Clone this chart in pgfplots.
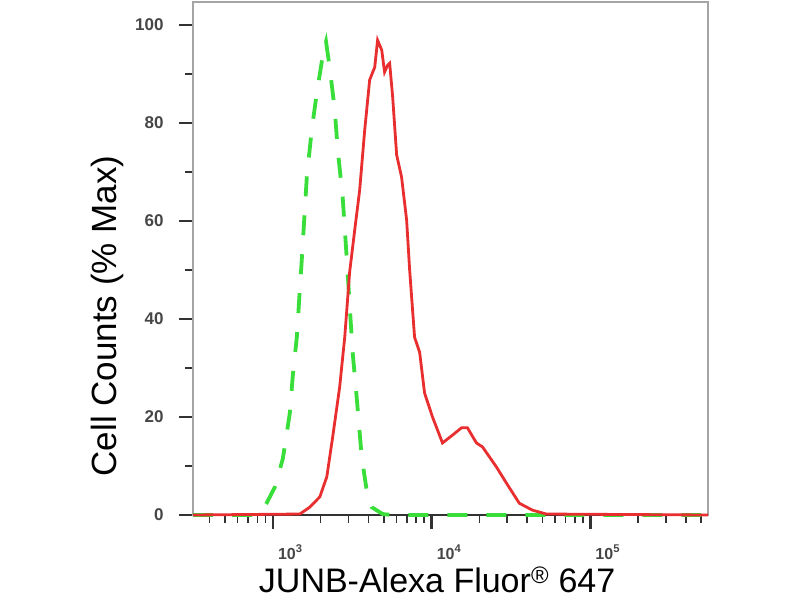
\documentclass[border=0pt]{standalone}
\usepackage{fontspec}
\setmainfont{Liberation Sans}
\usepackage{pgfplots}
\pgfplotsset{compat=1.18}
\definecolor{histred}{RGB}{232,46,46}
\definecolor{histgreen}{RGB}{58,222,58}
\definecolor{tickgray}{RGB}{50,50,50}
\definecolor{labelgray}{RGB}{70,70,70}
\definecolor{framegray}{RGB}{165,165,165}

\begin{document}
\begin{tikzpicture}
\path[use as bounding box] (-193pt,-85pt) rectangle (607pt,515pt);
\begin{axis}[
  at={(0pt,0pt)}, anchor=south west,
  scale only axis, width=515pt, height=513pt,
  xmode=log, xmin=314, xmax=552000,
  ymin=0, ymax=104.7,
  clip=false,
  xtick={1000,10000,100000},
  xticklabels={10\textsuperscript{3},10\textsuperscript{4},10\textsuperscript{5}},
  minor xtick={400,500,600,700,800,900,2000,3000,4000,5000,6000,7000,8000,9000,
    20000,30000,40000,50000,60000,70000,80000,90000,200000,300000,400000,500000},
  ytick={0,20,...,100},
  minor y tick num=1,
  xtick pos=lower, ytick pos=left,
  tick align=outside,
  major tick length=14pt, minor tick length=8pt,
  tick style={tickgray},
  major tick style={line width=2.6pt},
  minor tick style={line width=1.6pt},
  axis line style={line width=1.8pt, framegray},
  /pgf/number format/assume math mode=true,
  xticklabel style={font=\fontsize{16}{16}\selectfont\bfseries, text=labelgray, anchor=base west, inner sep=0pt, xshift=5pt, yshift=-30pt},
  yticklabel style={font=\fontsize{17}{17}\selectfont\bfseries, text=labelgray, xshift=-12pt},
  xlabel={JUNB-Alexa Fluor\textsuperscript{\textregistered} 647},
  ylabel={Cell Counts (\% Max)},
  label style={font=\fontsize{35}{35}\selectfont, text=black},
  xlabel style={font=\fontsize{34}{34}\selectfont, at={(axis description cs:0.474,-0.152)}, anchor=base, inner sep=0pt},
  ylabel style={at={(axis description cs:-0.167,0.388)}, anchor=center},
]
\draw[line width=2pt, tickgray] (rel axis cs:0,0) -- (rel axis cs:1,0);

% isotype control
\addplot[histgreen, line width=3.8pt, dash pattern=on 20pt off 19pt] coordinates {
(314,0) (759,0) (851,0.8) (916,2.5) (1030,5.7) (1156,11.5) (1279,20.8)
(1337,28.6) (1416,36.3) (1479,46) (1521,52) (1637,69) (1758,78.6)
(1892,86.1) (2080,94.5) (2163,96.6) (2280,91.4) (2455,82.7) (2564,74.5)
(2754,64.9) (2917,52.7) (3184,33.1) (3373,24.1) (3631,11.8) (3899,5.1)
(4198,1.6) (4920,0.2) (5623,0) (552000,0)
};

% JUNB
\addplot[histred, line width=2.8pt] coordinates {
(314,0) (1479,0.2) (1710,1.6) (1977,3.7) (2188,7.8) (2382,15.9)
(2636,26.1) (2838,36.3) (3048,49.6) (3281,58.2) (3524,66.3) (3793,78.6)
(4074,88.8) (4385,91.4) (4571,96.9) (4853,94.9) (5058,90.4) (5284,91.8)
(5445,92.2) (5689,85.3) (6026,73.5) (6471,69.0) (6966,60.2) (7278,50.0)
(7816,36.3) (8414,33.2) (9036,24.9) (10140,20.0) (11720,14.7) (13550,16.3)
(15450,17.8) (16830,17.8) (19190,14.7) (20940,13.9) (25640,9.8) (29650,6.5)
(35730,2.4) (43150,1.0) (52840,0.2) (552000,0)
};
\end{axis}
\end{tikzpicture}
\end{document}
